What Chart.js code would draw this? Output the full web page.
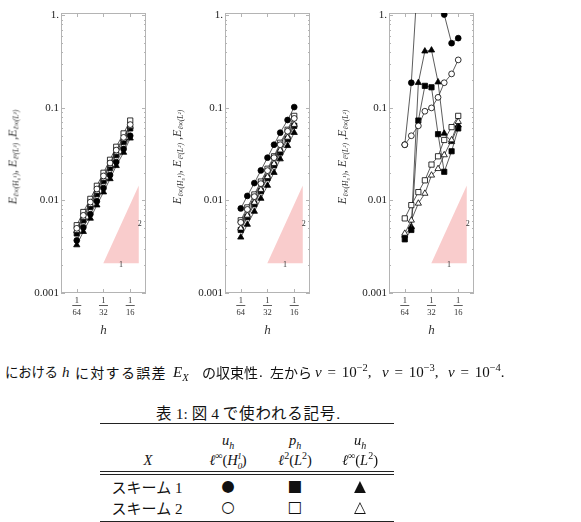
<!DOCTYPE html>
<html><head><meta charset="utf-8">
<script src="https://cdn.jsdelivr.net/npm/chart.js@4.4.1/dist/chart.umd.min.js"></script>
<style>
html,body{margin:0;padding:0;background:#fff;width:581px;height:522px;overflow:hidden;}
body{position:relative;font-family:"Liberation Serif","DejaVu Serif",serif;color:#111;}
canvas{position:absolute;top:0;}
.ytitle{position:absolute;top:157px;white-space:nowrap;font-family:"Liberation Serif",serif;font-style:italic;font-size:12px;color:#333;transform:translate(-50%,-50%) rotate(-90deg);}
.ytitle sub{font-size:7.5px;vertical-align:-2px;}
.t{position:absolute;white-space:nowrap;transform:translate(-50%,-50%);line-height:1;}
.cap{position:absolute;top:372px;white-space:nowrap;transform:translate(0,-50%);line-height:1;font-size:15px;}
.jp{font-family:"Noto Sans CJK JP",sans-serif;}
.m{font-family:"Liberation Serif","DejaVu Serif",serif;font-style:italic;}
.n{font-family:"Liberation Serif","DejaVu Serif",serif;font-style:normal;}
.sym{font-family:"DejaVu Sans",sans-serif;font-size:15.5px;}
.rule{position:absolute;height:1px;background:#222;left:100px;width:294px;}
sub,sup{line-height:0;}
</style>
</head><body>
<canvas id="c1" width="165" height="342" style="left:0px"></canvas>
<canvas id="c2" width="165" height="342" style="left:164px"></canvas>
<canvas id="c3" width="165" height="342" style="left:328px"></canvas>
<div class="ytitle" style="left:13px">E<sub>ℓ∞(H₀¹)</sub>, E<sub>ℓ²(L²)</sub> ,E<sub>ℓ∞(L²)</sub></div>
<div class="ytitle" style="left:177px">E<sub>ℓ∞(H₀¹)</sub>, E<sub>ℓ²(L²)</sub> ,E<sub>ℓ∞(L²)</sub></div>
<div class="ytitle" style="left:342px">E<sub>ℓ∞(H₀¹)</sub>, E<sub>ℓ²(L²)</sub> ,E<sub>ℓ∞(L²)</sub></div>

<div class="cap jp" style="left:5px;font-size:13.5px;letter-spacing:-0.3px">における</div>
<div class="cap m" style="left:62px;">h</div>
<div class="cap jp" style="left:75px;font-size:14px;letter-spacing:1.3px">に対する誤差</div>
<div class="cap m" style="left:173px;">E<sub style="font-size:10.5px">X</sub></div>
<div class="cap jp" style="left:202px;font-size:14px">の収束性</div>
<div class="cap n" style="left:259px;">.</div>
<div class="cap jp" style="left:270px;font-size:14px">左から</div>
<div class="cap n" style="left:315px;word-spacing:2px;"><span class="m">ν</span> = 10<sup style="font-size:10.5px">−2</sup>,</div>
<div class="cap n" style="left:382px;word-spacing:2px;"><span class="m">ν</span> = 10<sup style="font-size:10.5px">−3</sup>,</div>
<div class="cap n" style="left:448px;word-spacing:2px;"><span class="m">ν</span> = 10<sup style="font-size:10.5px">−4</sup>.</div>

<div class="t" style="left:248px;top:413px;font-size:15.5px;"><span class="jp" style="letter-spacing:0.5px">表</span> 1: <span class="jp">図</span> 4 <span class="jp" style="letter-spacing:0.8px">で使われる記号</span>.</div>
<div class="rule" style="top:423px"></div>
<div class="t m" style="left:228px;top:440px;font-size:14.5px;">u<sub style="font-size:10px">h</sub></div>
<div class="t m" style="left:295px;top:440px;font-size:14.5px;">p<sub style="font-size:10px">h</sub></div>
<div class="t m" style="left:360px;top:440px;font-size:14.5px;">u<sub style="font-size:10px">h</sub></div>
<div class="t m" style="left:148px;top:460px;font-size:14.5px;">X</div>
<div class="t m" style="left:228px;top:460px;font-size:14.5px;">ℓ<sup style="font-size:10px">∞</sup><span class="n">(</span>H<sub style="font-size:9px">0</sub><sup style="font-size:9px;margin-left:-5px">1</sup><span class="n">)</span></div>
<div class="t m" style="left:295px;top:460px;font-size:14.5px;">ℓ<sup style="font-size:10px" class="n">2</sup><span class="n">(</span>L<sup style="font-size:10px" class="n">2</sup><span class="n">)</span></div>
<div class="t m" style="left:360px;top:460px;font-size:14.5px;">ℓ<sup style="font-size:10px">∞</sup><span class="n">(</span>L<sup style="font-size:10px" class="n">2</sup><span class="n">)</span></div>
<div class="rule" style="top:471px"></div>
<div class="rule" style="top:474px"></div>
<div class="t" style="left:147px;top:487px;font-size:15px;"><span class="jp">スキーム</span> 1</div>
<div class="t sym" style="left:228px;top:487px;">●</div>
<div class="t sym" style="left:295px;top:487px;">■</div>
<div class="t sym" style="left:360px;top:487px;">▲</div>
<div class="t" style="left:147px;top:508px;font-size:15px;"><span class="jp">スキーム</span> 2</div>
<div class="t sym" style="left:228px;top:508px;">○</div>
<div class="t sym" style="left:295px;top:508px;">□</div>
<div class="t sym" style="left:360px;top:508px;">△</div>
<div class="rule" style="top:521px"></div>

<script>
// ---- data ----
const hDen = [64, 54, 45, 38, 32, 27, 23, 19, 16];      // h = 1/hDen
const hTickDen = [64, 32, 16];
const yTickValues = [0.001, 0.01, 0.1, 1];
const yTickLabels = ['0.001', '0.01', '0.1', '1.'];

// nu = 1e-2
const p1CircleFilled   = [0.0037, 0.0051, 0.0071, 0.0098, 0.0136, 0.0188, 0.026, 0.036, 0.050];
const p1SquareFilled   = [0.0044, 0.0061, 0.0085, 0.0117, 0.0162, 0.0224, 0.031, 0.043, 0.060];
const p1TriangleFilled = [0.0033, 0.0046, 0.0064, 0.0089, 0.0123, 0.0171, 0.0237, 0.033, 0.047];
const p1CircleOpen     = [0.0050, 0.0069, 0.0096, 0.0133, 0.0184, 0.0254, 0.035, 0.048, 0.066];
const p1SquareOpen     = [0.0054, 0.0075, 0.0104, 0.0144, 0.0199, 0.0275, 0.038, 0.053, 0.073];
const p1TriangleOpen   = [0.0047, 0.0065, 0.0090, 0.0125, 0.0173, 0.0240, 0.033, 0.046, 0.063];

// nu = 1e-3
const p2CircleFilled   = [0.0082, 0.0112, 0.0154, 0.0211, 0.029, 0.040, 0.054, 0.074, 0.102];
const p2SquareFilled   = [0.0048, 0.0066, 0.0091, 0.0126, 0.0174, 0.024, 0.033, 0.046, 0.064];
const p2TriangleFilled = [0.0040, 0.0055, 0.0076, 0.0105, 0.0145, 0.020, 0.028, 0.039, 0.054];
const p2CircleOpen     = [0.0058, 0.0080, 0.0110, 0.0152, 0.021, 0.029, 0.040, 0.056, 0.077];
const p2SquareOpen     = [0.0061, 0.0084, 0.0116, 0.0160, 0.022, 0.030, 0.042, 0.058, 0.082];
const p2TriangleOpen   = [0.0050, 0.0069, 0.0095, 0.0131, 0.018, 0.025, 0.035, 0.048, 0.066];

// nu = 1e-4
const p3CircleFilled   = [0.040, 0.187, 3.3, 5.0, 4.0, 3.0, 1.02, 0.50, 0.567];
const p3SquareFilled   = [0.0038, 0.0048, 0.073, 0.173, 0.167, 0.052, 0.0204, 0.034, 0.060];
const p3TriangleFilled = [0.0042, 0.0052, 0.187, 0.41, 0.42, 0.19, 0.053, 0.043, 0.065];
const p3CircleOpen     = [0.040, 0.050, 0.064, 0.092, 0.100, 0.130, 0.187, 0.233, 0.33];
const p3SquareOpen     = [0.0064, 0.0089, 0.0123, 0.0165, 0.0244, 0.030, 0.045, 0.062, 0.082];
const p3TriangleOpen   = [0.0044, 0.0061, 0.0093, 0.0119, 0.0187, 0.022, 0.031, 0.045, 0.071];

// slope-2 reference triangle
const triH = [0.0311, 0.078, 0.078, 0.0311];
const triE = [0.0021, 0.0021, 0.0145, 0.0021];
const triLabels = ['1', '2'];

// ---- drawing ----
const framePlugin = {
  id: 'frame',
  beforeDatasetsDraw(chart) {
    const {ctx, chartArea: a, scales: {x, y}} = chart;
    ctx.save();
    ctx.strokeStyle = '#b4b4b4';
    ctx.lineWidth = 1;
    ctx.strokeRect(Math.round(a.left) + 0.5, Math.round(a.top) + 0.5,
                   Math.round(a.right - a.left) - 1, Math.round(a.bottom - a.top) - 1);
    ctx.beginPath();
    for (let e = -3; e <= 0; e++) {
      for (let m = 1; m <= 9; m++) {
        const v = m * Math.pow(10, e);
        if (v > y.max || v < y.min) continue;
        const py = Math.round(y.getPixelForValue(v)) + 0.5;
        const L = m === 1 ? 4 : 2;
        ctx.moveTo(a.left, py); ctx.lineTo(a.left + L, py);
        ctx.moveTo(a.right, py); ctx.lineTo(a.right - L, py);
      }
    }
    hTickDen.forEach(d => {
      const px = Math.round(x.getPixelForValue(1 / d)) + 0.5;
      ctx.moveTo(px, a.bottom); ctx.lineTo(px, a.bottom - 4);
      ctx.moveTo(px, a.top); ctx.lineTo(px, a.top + 4);
    });
    ctx.stroke();
    ctx.restore();
  },
  afterDraw(chart) {
    const {ctx, chartArea: a, scales: {x, y}} = chart;
    ctx.save();
    ctx.strokeStyle = '#333';
    ctx.lineWidth = 0.8;
    ctx.beginPath();
    hTickDen.forEach(d => {
      const px = x.getPixelForValue(1 / d);
      ctx.moveTo(px - 4.5, a.bottom + 12.5); ctx.lineTo(px + 4.5, a.bottom + 12.5);
    });
    ctx.stroke();
    ctx.fillStyle = '#333';
    ctx.font = '8px "Liberation Serif", serif';
    ctx.textAlign = 'center';
    ctx.textBaseline = 'middle';
    const xm = (x.getPixelForValue(triH[0]) + x.getPixelForValue(triH[1])) / 2;
    ctx.fillText(triLabels[0], xm, y.getPixelForValue(triE[0]) + 2);
    const ym = (y.getPixelForValue(triE[1]) + y.getPixelForValue(triE[2])) / 2;
    ctx.fillText(triLabels[1], x.getPixelForValue(triH[1]) + 1, ym);
    ctx.restore();
  }
};

function series(values, style, filled, r) {
  return {
    data: hDen.map((d, i) => ({x: 1 / d, y: values[i]})),
    pointStyle: style, pointRadius: r, pointHoverRadius: r,
    pointBackgroundColor: filled ? '#000' : '#fff',
    pointBorderColor: '#000', pointBorderWidth: 0.8,
    borderColor: '#333', borderWidth: 0.8,
    showLine: true, fill: false, tension: 0, order: 1
  };
}

function makeChart(id, s) {
  const datasets = [
    series(s.co, 'circle', false, 2.9),
    series(s.so, 'rect', false, 3.7),
    series(s.to, 'triangle', false, 3.6),
    series(s.cf, 'circle', true, 2.9),
    series(s.sf, 'rect', true, 3.7),
    series(s.tf, 'triangle', true, 3.6),
    {
      data: triH.map((h, i) => ({x: h, y: triE[i]})),
      fill: 'shape', backgroundColor: 'rgb(249,204,204)',
      borderWidth: 0, borderColor: 'rgba(0,0,0,0)', pointRadius: 0,
      showLine: true, order: 10
    }
  ];
  return new Chart(document.getElementById(id), {
    type: 'line',
    data: {datasets},
    options: {
      responsive: false, animation: false, devicePixelRatio: 1,
      layout: {padding: {left: 0, right: 19, top: 13, bottom: 0}},
      plugins: {legend: {display: false}, tooltip: {enabled: false}},
      scales: {
        x: {
          type: 'logarithmic', position: 'bottom', min: 0.01038, max: 0.0941,
          afterBuildTicks: sc => { sc.ticks = hTickDen.map(d => ({value: 1 / d})); },
          ticks: {
            autoSkip: false, maxRotation: 0, minRotation: 0, padding: 2,
            color: '#333',
            font: {family: '"Liberation Serif", serif', size: 8.5, lineHeight: 1.38},
            callback: (v, i) => ['1', String(hTickDen[i])]
          },
          grid: {display: false, drawTicks: false}, border: {display: false},
          title: {display: true, text: 'h', color: '#333',
                  font: {family: '"Liberation Serif", serif', size: 13, style: 'italic'}},
          afterFit: sc => { sc.height = 49; }
        },
        y: {
          type: 'logarithmic', position: 'left', min: 0.001, max: 1.06,
          afterBuildTicks: sc => { sc.ticks = yTickValues.map(v => ({value: v})); },
          ticks: {
            autoSkip: false, padding: 2, color: '#222',
            font: {family: '"Liberation Serif", serif', size: 11},
            callback: (v, i) => yTickLabels[i]
          },
          grid: {display: false, drawTicks: false}, border: {display: false},
          afterFit: sc => { sc.width = 61; }
        }
      }
    },
    plugins: [framePlugin]
  });
}

makeChart('c1', {cf: p1CircleFilled, sf: p1SquareFilled, tf: p1TriangleFilled, co: p1CircleOpen, so: p1SquareOpen, to: p1TriangleOpen});
makeChart('c2', {cf: p2CircleFilled, sf: p2SquareFilled, tf: p2TriangleFilled, co: p2CircleOpen, so: p2SquareOpen, to: p2TriangleOpen});
makeChart('c3', {cf: p3CircleFilled, sf: p3SquareFilled, tf: p3TriangleFilled, co: p3CircleOpen, so: p3SquareOpen, to: p3TriangleOpen});
</script>
</body></html>
